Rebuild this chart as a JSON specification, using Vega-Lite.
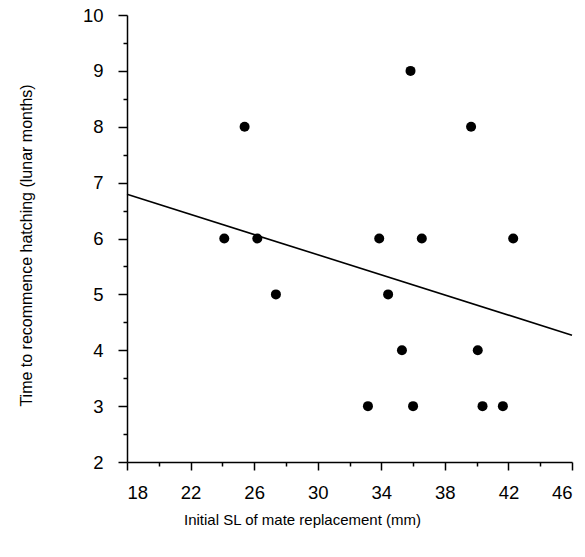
{
  "$schema": "https://vega.github.io/schema/vega-lite/v6.json",
  "width": 445,
  "height": 447,
  "autosize": {"type": "none"},
  "padding": {"left": 127, "top": 15, "right": 13, "bottom": 95},
  "background": "white",
  "config": {
    "view": {"stroke": null},
    "font": "Liberation Sans",
    "axis": {
      "grid": false,
      "domainColor": "black",
      "domainWidth": 1.5,
      "tickColor": "black",
      "tickWidth": 1.5,
      "labelColor": "black",
      "labelFont": "Liberation Sans",
      "labelFontSize": 18.5,
      "titleFont": "Liberation Sans",
      "titleFontSize": 15,
      "titleFontWeight": "normal",
      "titleColor": "black"
    }
  },
  "resolve": {"axis": {"x": "independent", "y": "independent"}},
  "layer": [
    {
      "data": {
        "values": [
          {"sl": 35.84, "time": 9},
          {"sl": 25.4, "time": 8},
          {"sl": 39.65, "time": 8},
          {"sl": 24.12, "time": 6},
          {"sl": 26.2, "time": 6},
          {"sl": 33.87, "time": 6},
          {"sl": 36.55, "time": 6},
          {"sl": 42.3, "time": 6},
          {"sl": 27.37, "time": 5},
          {"sl": 34.43, "time": 5},
          {"sl": 35.3, "time": 4},
          {"sl": 40.07, "time": 4},
          {"sl": 33.16, "time": 3},
          {"sl": 36.0, "time": 3},
          {"sl": 40.37, "time": 3},
          {"sl": 41.65, "time": 3}
        ]
      },
      "mark": {"type": "point", "filled": true, "color": "black", "opacity": 1, "size": 100},
      "encoding": {
        "x": {
          "field": "sl", "type": "quantitative",
          "scale": {"domain": [18, 46], "nice": false, "zero": false},
          "axis": {
            "orient": "bottom",
            "values": [18, 22, 26, 30, 34, 38, 42, 46],
            "tickSize": 8,
            "labelPadding": 13,
            "title": "Initial SL of mate replacement (mm)",
            "titleX": 175,
            "titleY": 57,
            "titleBaseline": "middle",
            "titleAnchor": null
          }
        },
        "y": {
          "field": "time", "type": "quantitative",
          "scale": {"domain": [2, 10], "nice": false, "zero": false},
          "axis": {
            "orient": "left",
            "values": [2, 3, 4, 5, 6, 7, 8, 9, 10],
            "tickSize": 9,
            "labelPadding": 15,
            "title": "Time to recommence hatching (lunar months)",
            "titleFontSize": 16,
            "titleX": -101,
            "titleY": 230,
            "titleBaseline": "middle",
            "titleAngle": 270
          }
        }
      }
    },
    {
      "data": {
        "values": [
          {"sl": 18, "time": 6.79},
          {"sl": 46, "time": 4.27}
        ]
      },
      "mark": {"type": "line", "color": "black", "strokeWidth": 1.6},
      "encoding": {
        "x": {
          "field": "sl", "type": "quantitative",
          "scale": {"domain": [18, 46], "nice": false, "zero": false},
          "axis": {
            "orient": "bottom",
            "values": [20, 24, 28, 32, 36, 40, 44],
            "tickSize": 4,
            "labels": false,
            "domain": false,
            "title": null
          }
        },
        "y": {
          "field": "time", "type": "quantitative",
          "scale": {"domain": [2, 10], "nice": false, "zero": false},
          "axis": {
            "orient": "left",
            "values": [2.5, 3.5, 4.5, 5.5, 6.5, 7.5, 8.5, 9.5],
            "tickSize": 4,
            "labels": false,
            "domain": false,
            "title": null
          }
        }
      }
    }
  ]
}
